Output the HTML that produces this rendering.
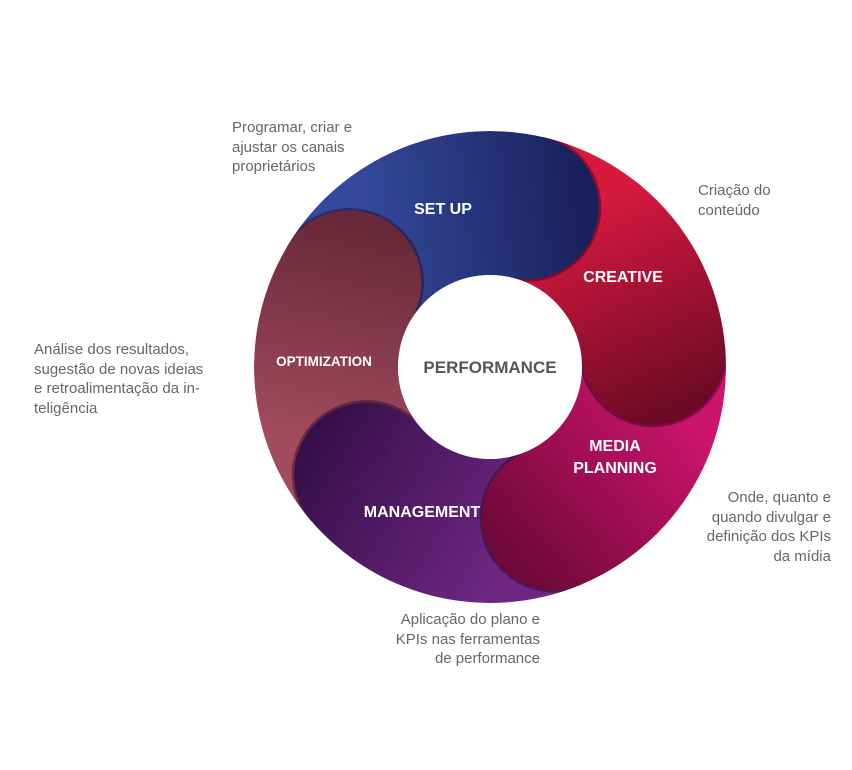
<!DOCTYPE html>
<html><head><meta charset="utf-8">
<style>
html,body{margin:0;padding:0;background:#fff;}
body{width:852px;height:770px;position:relative;overflow:hidden;font-family:"Liberation Sans",sans-serif;}
.t{position:absolute;color:#666;font-size:15px;line-height:19.5px;}
.r{text-align:right;}
</style></head><body>
<svg id="s" width="852" height="770" style="position:absolute;left:0;top:0">
<g id="w"></g>
<circle cx="490" cy="367" r="92" fill="#fff"/>
<g font-family="Liberation Sans, sans-serif" font-weight="bold" fill="#fff" text-anchor="middle">
<text x="443" y="214" font-size="16">SET UP</text>
<text x="623" y="282" font-size="16">CREATIVE</text>
<text x="615" y="451" font-size="16">MEDIA</text>
<text x="615" y="473" font-size="16">PLANNING</text>
<text x="422" y="517" font-size="16">MANAGEMENT</text>
<text x="324" y="366" font-size="13.5">OPTIMIZATION</text>
<text x="490" y="373" font-size="17" fill="#555">PERFORMANCE</text>
</g>
</svg>
<script>
(function(){
var cx=490,cy=367,R=236,r=92,m=164,hr=72;
var heads=[283,355,67,139,211];
var cols=[["#34499c","#19205a"],["#d8193f","#6c0a26"],["#cc146c","#6e0838"],["#6e2682","#36104a"],["#a24b5e","#66283a"]];
var g=document.getElementById('w');
function p(a,rad){var t=a*Math.PI/180;return [cx+rad*Math.cos(t),cy+rad*Math.sin(t)];}
var defs='<defs>',wed='',hd='';
for(var i=0;i<5;i++){
 var a2=heads[i],a1=heads[(i+4)%5];
 if(a1>a2)a1-=360;
 var s=p(a1+10,m),e=p(a2+25,m);
 defs+='<linearGradient id="g'+i+'" gradientUnits="userSpaceOnUse" x1="'+s[0]+'" y1="'+s[1]+'" x2="'+e[0]+'" y2="'+e[1]+'"><stop offset="0" stop-color="'+cols[i][0]+'"/><stop offset="1" stop-color="'+cols[i][1]+'"/></linearGradient>';
 var a2e=a2+3;
 var o1=p(a1,R),o2e=p(a2e,R),i2e=p(a2e,r),i1=p(a1,r);
 wed+='<path d="M'+o1+' A'+R+' '+R+' 0 0 1 '+o2e+' L'+i2e+' A'+r+' '+r+' 0 0 0 '+i1+' Z" fill="url(#g'+i+')"/>';
 var o2=p(a2,R),i2=p(a2,r);
 var arc='M'+o2+' A'+hr+' '+hr+' 0 0 1 '+i2;
 hd+='<path d="'+arc+'" fill="none" stroke="rgba(40,5,30,0.45)" stroke-width="5"/>';
 hd+='<path d="'+arc+' Z" fill="url(#g'+i+')"/>';
}
defs+='<clipPath id="ann"><path d="M'+(cx-R)+' '+cy+' a'+R+' '+R+' 0 1 0 '+(2*R)+' 0 a'+R+' '+R+' 0 1 0 '+(-2*R)+' 0Z"/></clipPath></defs>';
g.innerHTML=defs+'<g clip-path="url(#ann)">'+wed+hd+'</g>';
})();
</script>
<div class="t" style="left:232px;top:118px">Programar, criar e<br>ajustar os canais<br>proprietários</div>
<div class="t" style="left:698px;top:181px">Criação do<br>conteúdo</div>
<div class="t" style="left:34px;top:340px">Análise dos resultados,<br>sugestão de novas ideias<br>e retroalimentação da in-<br>teligência</div>
<div class="t r" style="right:21px;top:488px">Onde, quanto e<br>quando divulgar e<br>definição dos KPIs<br>da mídia</div>
<div class="t r" style="right:312px;top:610px">Aplicação do plano e<br>KPIs nas ferramentas<br>de performance</div>
</body></html>
